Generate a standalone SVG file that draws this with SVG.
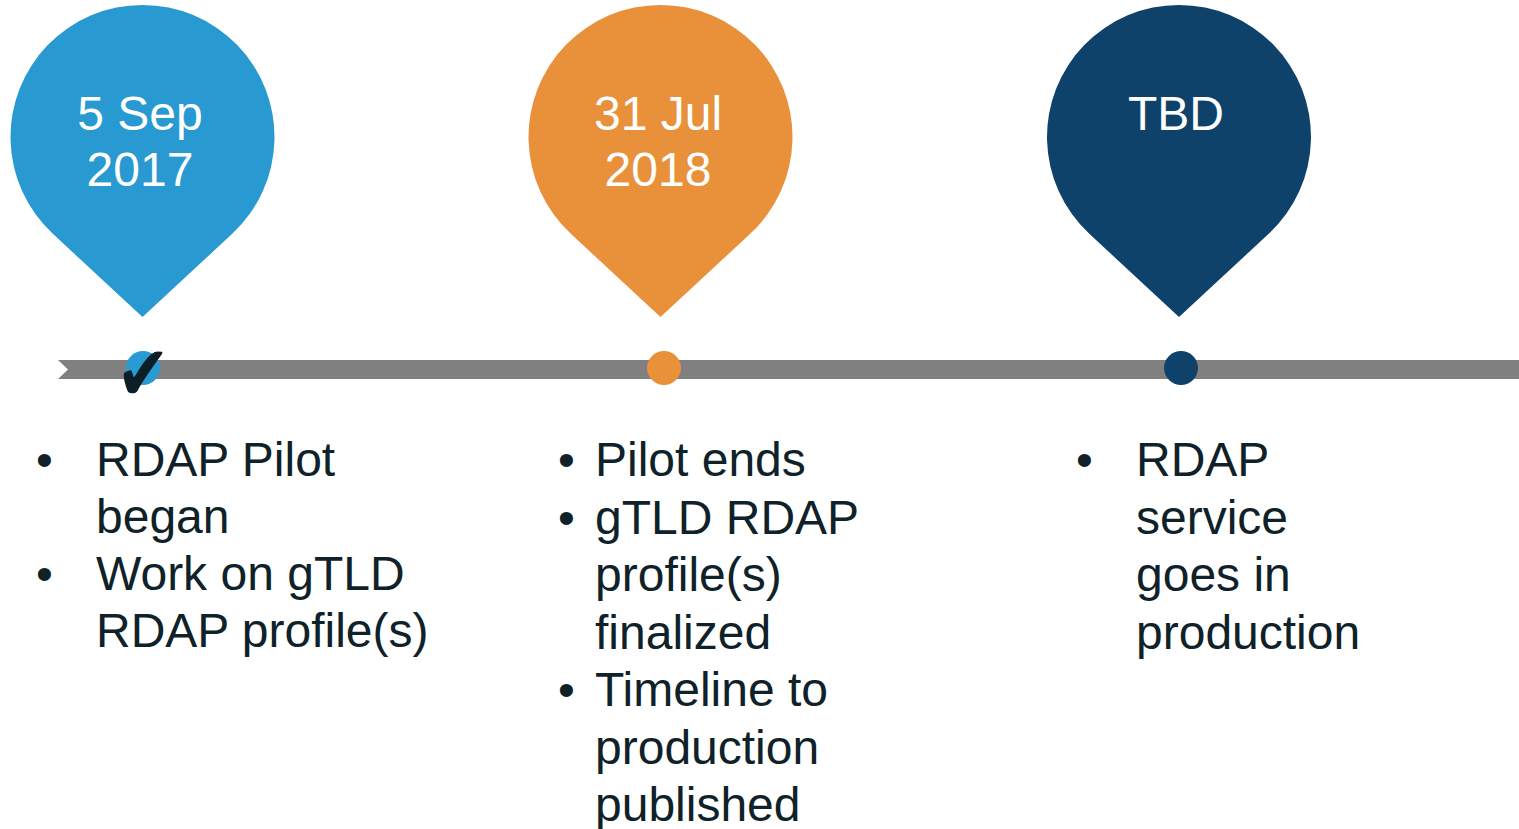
<svg xmlns="http://www.w3.org/2000/svg" width="1519" height="829" viewBox="0 0 1519 829">
<style>
.date{font-family:"Liberation Sans",Arial,sans-serif;font-size:48px;fill:#ffffff;text-anchor:middle}
.txt{font-family:"Liberation Sans",Arial,sans-serif;font-size:48px;fill:#0f2129}
</style>
<defs>
<path id="pin" d="M0 180 L-89.7 96.8 A132 132 0 1 1 89.7 96.8 Z"/>
</defs>
<rect width="1519" height="829" fill="#ffffff"/>
<g id="connectors">
<polygon points="58,360 1519,360 1519,379 58,379 68,369.5" fill="#808080"/>
</g>
<g id="node-2017">
<use href="#pin" transform="translate(142.5,137)" fill="#2999d1"/>
<text class="date" x="140" y="130">5 Sep</text>
<text class="date" x="140" y="186">2017</text>
<circle cx="143" cy="368" r="17" fill="#2a9ad3"/>
<text transform="translate(143,400) scale(1,1.2)" x="0" y="0" font-family="DejaVu Sans,sans-serif" font-size="64" fill="#0c1f26" text-anchor="middle">✔</text>
<text class="txt" x="36" y="476">•</text>
<text class="txt" x="96" y="476">RDAP Pilot</text>
<text class="txt" x="96" y="533">began</text>
<text class="txt" x="36" y="590">•</text>
<text class="txt" x="96" y="590">Work on gTLD</text>
<text class="txt" x="96" y="647">RDAP profile(s)</text>
</g>
<g id="node-2018">
<use href="#pin" transform="translate(660.5,137)" fill="#e8913a"/>
<text class="date" x="658" y="130">31 Jul</text>
<text class="date" x="658" y="186">2018</text>
<circle cx="664" cy="368" r="17" fill="#e8913a"/>
<text class="txt" x="558" y="476">•</text>
<text class="txt" x="595" y="476">Pilot ends</text>
<text class="txt" x="558" y="533.5">•</text>
<text class="txt" x="595" y="533.5">gTLD RDAP</text>
<text class="txt" x="595" y="591">profile(s)</text>
<text class="txt" x="595" y="648.5">finalized</text>
<text class="txt" x="558" y="706">•</text>
<text class="txt" x="595" y="706">Timeline to</text>
<text class="txt" x="595" y="763.5">production</text>
<text class="txt" x="595" y="821">published</text>
</g>
<g id="node-tbd">
<use href="#pin" transform="translate(1179,137)" fill="#0f426b"/>
<text class="date" x="1176" y="130">TBD</text>
<circle cx="1181" cy="368" r="17" fill="#0f426b"/>
<text class="txt" x="1076" y="476">•</text>
<text class="txt" x="1136" y="476">RDAP</text>
<text class="txt" x="1136" y="533.5">service</text>
<text class="txt" x="1136" y="591">goes in</text>
<text class="txt" x="1136" y="648.5">production</text>
</g>
</svg>
